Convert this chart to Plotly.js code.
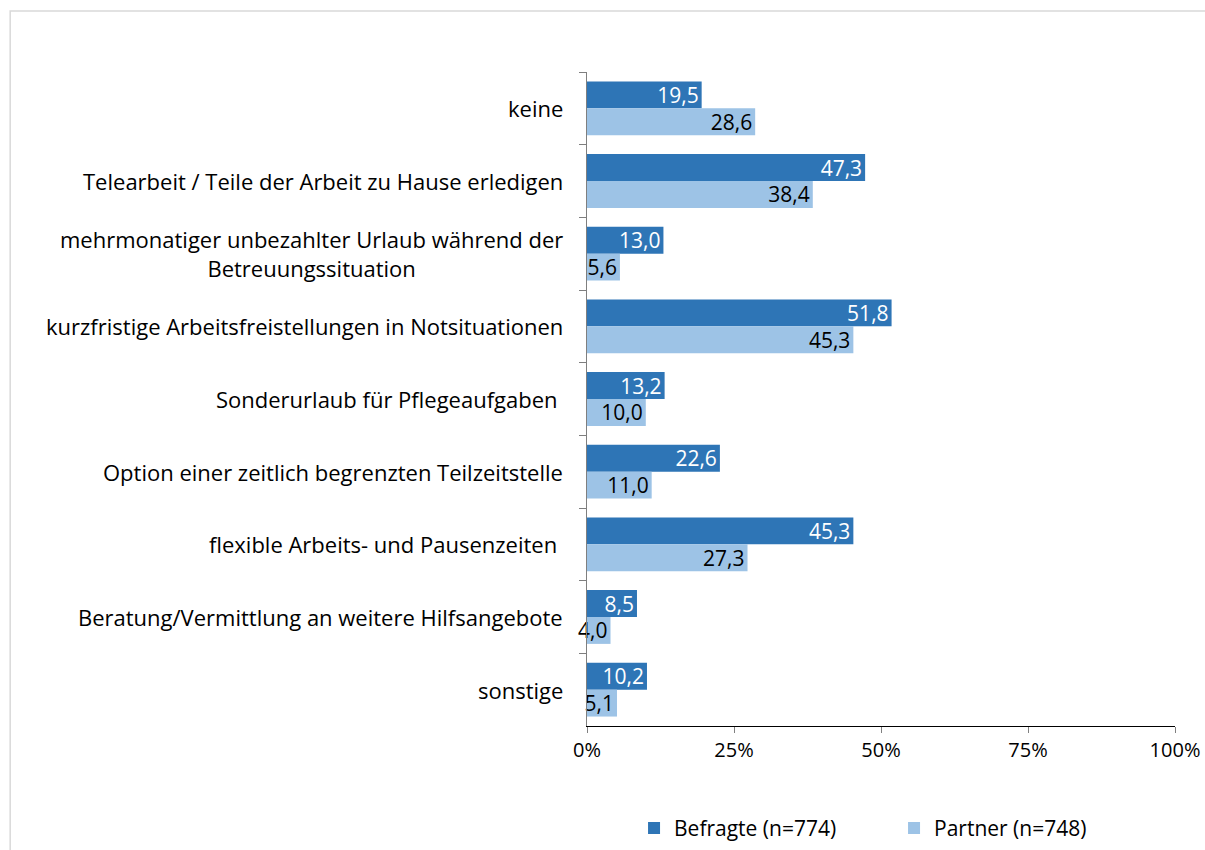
<!DOCTYPE html>
<html><head><meta charset="utf-8">
<script src="https://cdn.plot.ly/plotly-3.0.1.min.js"></script>
<style>body{margin:0;background:#fff}#c{width:1205px;height:850px}</style>
</head><body><div id="c"></div>
<script>
const categories = [
  "keine",
  "Telearbeit / Teile der Arbeit zu Hause erledigen",
  "mehrmonatiger unbezahlter Urlaub während der<br>Betreuungssituation",
  "kurzfristige Arbeitsfreistellungen in Notsituationen",
  "Sonderurlaub für Pflegeaufgaben ",
  "Option einer zeitlich begrenzten Teilzeitstelle",
  "flexible Arbeits- und Pausenzeiten ",
  "Beratung/Vermittlung an weitere Hilfsangebote",
  "sonstige"
];
const befragte = [19.5, 47.3, 13.0, 51.8, 13.2, 22.6, 45.3, 8.5, 10.2];
const partner  = [28.6, 38.4, 5.6, 45.3, 10.0, 11.0, 27.3, 4.0, 5.1];
const seriesNames = ["Befragte (n=774)", "Partner (n=748)"];
const xTicks = [0, 25, 50, 75, 100];

const fmt = v => v.toFixed(1).replace('.', ',');
const FONT = "Open Sans, Noto Sans, sans-serif";
const FS = 21;

function trace(vals, name, color, txtColor) {
  return {
    type: 'bar', orientation: 'h', name: name,
    y: categories, x: vals,
    marker: {color: color},
    text: vals.map(fmt), textposition: 'inside', insidetextanchor: 'end',
    constraintext: 'none', textangle: 0, cliponaxis: false,
    textfont: {family: FONT, size: FS, color: txtColor},
    hoverinfo: 'skip'
  };
}

const data = [
  trace(befragte, seriesNames[0], '#2E75B6', '#ffffff'),
  trace(partner, seriesNames[1], '#9DC3E6', '#000000')
];

const annotations = categories.map(c => ({
  xref: 'paper', yref: 'y', x: 0, y: c, xanchor: 'right', yanchor: 'middle',
  xshift: -22, text: c, showarrow: false, align: 'center',
  font: {family: FONT, size: 22, color: '#000'}
}));

const layout = {
  width: 1205, height: 850,
  margin: {l: 587, r: 30, t: 72, b: 124, autoexpand: false},
  paper_bgcolor: '#fff', plot_bgcolor: '#fff',
  barmode: 'group', bargap: 0.26, bargroupgap: 0,
  font: {family: FONT, size: FS, color: '#000'},
  showlegend: true,
  legend: {orientation: 'h', x: 0.08, xanchor: 'left', y: -0.125, yanchor: 'top',
           entrywidth: 215, entrywidthmode: 'pixels',
           font: {family: FONT, size: FS, color: '#000'}, itemwidth: 30, traceorder: 'normal'},
  xaxis: {range: [0, 100], tickvals: xTicks, ticktext: xTicks.map(v => v + '%'),
          showgrid: false, zeroline: false, showline: true, linecolor: '#000', linewidth: 1,
          ticks: 'outside', ticklen: 6, tickcolor: '#808080', tickfont: {family: FONT, size: 20},
          fixedrange: true},
  yaxis: {type: 'category', autorange: 'reversed', showticklabels: false,
          showline: true, linecolor: '#7f7f7f', linewidth: 1.5,
          ticks: 'outside', tickson: 'boundaries', ticklen: 7, tickcolor: '#7f7f7f',
          showgrid: false, zeroline: false, fixedrange: true},
  annotations: annotations,
  shapes: [{type: 'rect', xref: 'paper', yref: 'paper', x0: -0.981, x1: 1.08, y0: -0.25, y1: 1.0933,
            line: {color: '#d9d9d9', width: 1.5}, fillcolor: 'rgba(0,0,0,0)', layer: 'below'}]
};

Plotly.newPlot('c', data, layout, {displayModeBar: false, staticPlot: true});
</script></body></html>
